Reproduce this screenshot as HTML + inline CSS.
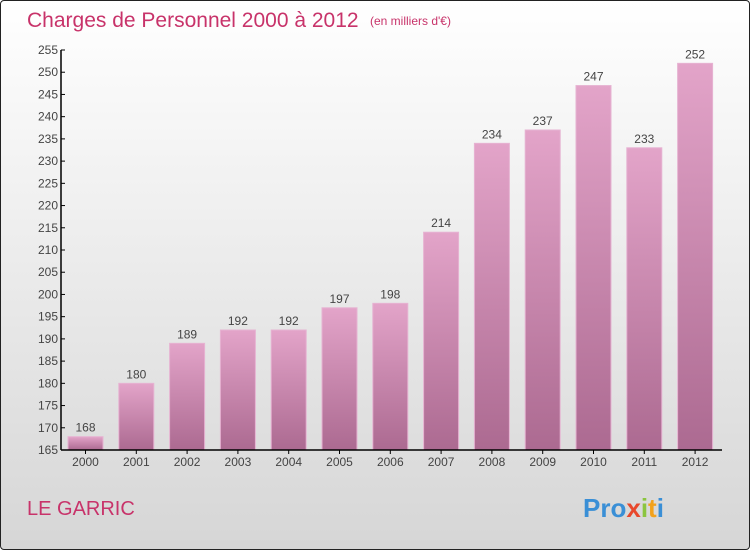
<!DOCTYPE html>
<html><head><meta charset="utf-8"><style>
body{margin:0;width:750px;height:550px;overflow:hidden;font-family:"Liberation Sans",sans-serif}
#wrap{position:absolute;left:0;top:0;width:748px;height:548px;border:1px solid #222;border-radius:4px;background:linear-gradient(#ffffff,#d6d6d6)}
</style></head><body>
<div id="wrap">
<svg width="750" height="550" style="position:absolute;left:-1px;top:-1px">
<defs><linearGradient id="bg" x1="0" y1="0" x2="0" y2="1"><stop offset="0" stop-color="#e3a4c9"/><stop offset="1" stop-color="#ac6a91"/></linearGradient></defs>
<text x="27" y="27" font-size="21" fill="#c8336a">Charges de Personnel 2000 à 2012</text>
<text x="370" y="25" font-size="12" fill="#c8336a">(en milliers d'€)</text>
<text x="27" y="515" font-size="20" fill="#c8336a">LE GARRIC</text>
<text x="583" y="517" font-size="26" font-weight="bold"><tspan fill="#3a8fd6">Pro</tspan><tspan fill="#e8482c">x</tspan><tspan fill="#8bc53f">i</tspan><tspan fill="#f2a21c">t</tspan><tspan fill="#3a8fd6">i</tspan></text>
<g id="plot"></g>
</svg></div>
<script>
const years=["2000","2001","2002","2003","2004","2005","2006","2007","2008","2009","2010","2011","2012"];
const values=[168,180,189,192,192,197,198,214,234,237,247,233,252];
const yTicks=[165,170,175,180,185,190,195,200,205,210,215,220,225,230,235,240,245,250,255];
const NS="http://www.w3.org/2000/svg";
const g=document.getElementById('plot');
const y0=450,yMin=165,yMax=255,yTop=50,axX=61;
const y=v=>y0-(v-yMin)*(y0-yTop)/(yMax-yMin);
const x=i=>85.5+i*50.8;
function el(t,a){const e=document.createElementNS(NS,t);for(const k in a)e.setAttribute(k,a[k]);g.appendChild(e);return e;}
yTicks.forEach(t=>{
 const l=el('line',{x1:axX,x2:axX+4,y1:y(t),y2:y(t),stroke:'#000'});
 
 
 const tx=el('text',{x:axX-3,y:y(t)+4,'font-size':12,'text-anchor':'end',fill:'#444'});
 tx.textContent=t;
 
 
});
values.forEach((v,i)=>{
 const r=el('rect',{x:x(i)-17.5,y:y(v),width:35,height:y0-y(v),fill:'url(#bg)',stroke:'#e6b3d2','stroke-width':1});
 
 
 const vt=el('text',{x:x(i),y:y(v)-5,'font-size':12,'text-anchor':'middle',fill:'#444'});
 vt.textContent=v;
 
 
 const xt=el('text',{x:x(i),y:y0+16,'font-size':12,'text-anchor':'middle',fill:'#444'});
 xt.textContent=years[i];
 
 
 const tk=el('line',{x1:x(i),x2:x(i),y1:y0,y2:y0+4,stroke:'#000'});
 
 
});
const ya=el('line',{x1:axX,x2:axX,y1:yTop,y2:y0,stroke:'#000','stroke-width':1.5});


const xa=el('line',{x1:axX,x2:722,y1:y0,y2:y0,stroke:'#000','stroke-width':1.5});


</script>
</body></html>
